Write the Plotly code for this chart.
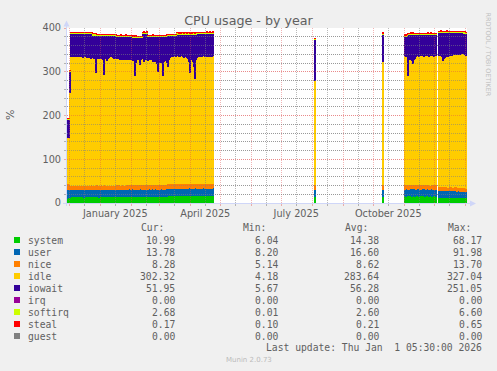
import pandas as pd
import plotly.graph_objects as go

# ---------------- data (daily averages) ----------------
SEG_STARTS = ["2024-11-28", "2025-08-03", "2025-10-10", "2025-11-01", "2025-12-05"]
SEG_LENGTHS = [147, 1, 1, 32, 28]

SYSTEM = [
    10.2, 10.5, 10.8, 12.0, 13.1, 12.8, 13.4, 12.9, 13.6, 12.7,
    13.2, 13.8, 12.6, 13.0, 13.5, 12.9, 13.3, 12.4, 13.1, 13.7,
    12.8, 13.2, 13.9, 12.7, 13.4, 13.0, 12.6, 13.5, 13.1, 12.9,
    13.8, 13.3, 12.5, 13.0, 13.6, 12.8, 13.2, 13.9, 13.1, 12.7,
    13.4, 13.0, 13.7, 12.9, 13.3, 12.6, 13.5, 13.1, 12.8, 13.6,
    13.2, 12.9, 13.4, 13.8, 12.7, 13.1, 13.5, 13.0, 12.6, 13.3,
    13.9, 13.2, 12.8, 13.5, 13.1, 13.7, 12.9, 13.4, 14.2, 13.6,
    13.0, 13.5, 13.8, 14.1, 13.2, 13.7, 13.3, 12.9, 13.6, 14.0,
    13.4, 13.1, 13.8, 13.5, 14.2, 13.3, 13.9, 14.4, 13.6, 13.2,
    13.8, 14.5, 13.7, 14.1, 13.4, 13.9, 14.6, 14.0, 13.5, 14.3,
    14.8, 15.1, 15.4, 15.0, 15.6, 15.2, 15.9, 15.5, 16.1, 15.7,
    16.0, 15.6, 16.3, 15.8, 16.2, 15.7, 16.4, 16.0, 15.5, 16.1,
    16.5, 15.9, 16.3, 16.8, 16.1, 15.7, 16.4, 16.9, 16.2, 16.6,
    16.0, 16.4, 16.8, 16.3, 16.7, 16.1, 16.5, 16.9, 16.4, 16.8,
    16.2, 16.6, 17.0, 16.5, 16.9, 16.3, 16.7,
    14.2,
    14.5,
    15.2, 14.6, 15.8, 14.9, 15.4, 16.1, 15.0, 14.7, 15.6, 15.3,
    14.8, 15.5, 16.0, 15.1, 14.6, 15.7, 15.2, 14.9, 15.8, 15.4,
    14.7, 15.3, 16.2, 15.0, 14.5, 15.6, 15.1, 14.8, 15.5, 15.9,
    15.2, 14.6,
    11.8, 12.3, 11.5, 12.0, 11.6, 12.4, 11.9, 11.3, 12.1, 11.7,
    12.2, 11.4, 11.9, 12.5, 11.6, 11.8, 12.2, 11.5, 11.9, 11.3,
    11.7, 12.0, 11.4, 11.8, 11.2, 11.6, 11.3, 10.99,
]

USER = [
    19.8, 19.5, 19.4, 18.0, 16.5, 17.2, 16.1, 17.0, 16.4, 17.1,
    16.9, 16.0, 17.3, 17.2, 16.4, 17.1, 16.2, 17.4, 16.9, 16.1,
    17.1, 17.2, 15.9, 17.3, 16.5, 16.4, 17.5, 16.5, 17.2, 16.9,
    16.4, 16.3, 17.2, 17.3, 16.5, 16.9, 17.0, 16.1, 16.4, 17.3,
    16.5, 17.4, 16.1, 17.0, 16.8, 16.8, 16.4, 17.2, 16.8, 16.6,
    16.8, 16.6, 16.9, 16.1, 17.4, 16.6, 16.6, 17.3, 17.1, 16.7,
    17.3, 17.4, 18.1, 17.8, 17.4, 17.3, 18.2, 17.2, 16.2, 17.6,
    17.8, 17.6, 16.8, 16.9, 18.1, 17.0, 17.6, 17.5, 17.6, 16.8,
    17.7, 17.4, 17.2, 17.9, 16.5, 17.6, 17.3, 16.2, 17.4, 18.1,
    16.9, 16.6, 17.1, 16.3, 17.8, 17.0, 16.0, 17.1, 17.3, 16.7,
    18.4, 17.6, 18.0, 17.9, 17.5, 17.4, 17.4, 17.5, 17.4, 17.1,
    17.1, 17.1, 17.1, 17.2, 17.0, 16.9, 16.9, 16.9, 17.6, 16.7,
    16.9, 17.1, 16.9, 16.7, 16.8, 17.4, 17.6, 15.9, 17.0, 16.8,
    17.0, 16.9, 16.3, 16.4, 16.7, 16.8, 16.7, 16.6, 16.6, 16.5,
    16.9, 16.2, 16.4, 16.5, 16.3, 16.4, 16.6,
    16.1,
    15.8,
    15.6, 16.3, 15.1, 15.9, 15.4, 14.8, 16.0, 16.2, 15.3, 15.7,
    16.1, 15.2, 14.9, 15.8, 16.4, 15.0, 15.6, 16.0, 15.1, 15.5,
    16.2, 15.4, 14.7, 15.9, 16.3, 15.2, 15.8, 16.1, 15.3, 14.9,
    15.7, 16.2,
    14.8, 14.2, 15.1, 14.5, 14.9, 14.0, 14.6, 15.2, 14.3, 14.7,
    14.1, 15.0, 14.4, 13.9, 14.8, 14.5, 14.2, 14.9, 14.3, 15.0,
    14.6, 14.2, 14.8, 14.4, 14.9, 14.3, 14.6, 13.78,
]

NICE = [
    14.0, 14.1, 13.8, 12.0, 10.2, 9.8, 10.5, 9.9, 10.3, 10.1,
    9.7, 10.4, 10.0, 9.6, 10.2, 9.9, 10.6, 10.1, 9.8, 10.3,
    10.0, 9.5, 10.4, 9.9, 10.2, 10.7, 9.8, 10.1, 9.6, 10.3,
    9.9, 10.5, 10.2, 9.7, 10.0, 10.4, 9.8, 10.1, 10.6, 9.9,
    10.2, 9.6, 10.3, 10.0, 9.8, 10.5, 10.1, 9.7, 10.4, 9.9,
    10.1, 10.6, 9.8, 10.2, 9.9, 10.4, 10.0, 9.6, 10.3, 10.1,
    9.8, 10.4, 10.1, 9.7, 10.5, 10.0, 9.9, 10.3, 10.6, 9.8,
    10.2, 9.9, 10.4, 10.0, 9.7, 10.3, 10.1, 10.6, 9.8, 10.2,
    9.9, 10.5, 10.0, 9.6, 10.3, 10.1, 9.8, 10.4, 10.0, 9.7,
    10.3, 9.9, 10.2, 10.6, 9.8, 10.1, 10.4, 9.9, 10.2, 10.0,
    9.8, 10.3, 9.6, 10.1, 9.9, 10.4, 9.7, 10.0, 9.5, 10.2,
    9.9, 10.3, 9.6, 10.0, 9.8, 10.4, 9.7, 10.1, 9.9, 10.2,
    9.6, 10.0, 9.8, 9.5, 10.1, 9.9, 9.7, 10.2, 9.8, 9.6,
    10.0, 9.7, 9.9, 10.3, 9.6, 10.1, 9.8, 9.5, 10.0, 9.7,
    9.9, 10.2, 9.6, 10.0, 9.8, 10.3, 9.7,
    10.6,
    9.9,
    9.6, 9.3, 9.9, 9.4, 9.8, 9.2, 9.7, 9.5, 9.9, 9.3,
    9.6, 9.8, 9.2, 9.7, 9.4, 9.9, 9.5, 9.3, 9.8, 9.6,
    9.4, 9.7, 9.3, 9.8, 9.5, 9.2, 9.9, 9.6, 9.4, 9.7,
    9.5, 9.3,
    9.6, 9.2, 9.8, 9.4, 9.7, 9.1, 9.5, 9.3, 9.8, 9.0,
    9.4, 9.7, 9.2, 9.5, 8.9, 9.6, 9.3, 9.1, 9.4, 8.8,
    9.2, 8.9, 9.3, 8.7, 9.0, 8.6, 8.9, 8.28,
]

IDLE = [
    104, 106, 105, 210, 294, 295, 293, 296, 294, 293,
    295, 294, 296, 293, 295, 294, 292, 294, 293, 295,
    292, 294, 291, 293, 290, 292, 291, 289, 290, 258,
    288, 290, 289, 291, 288, 290, 287, 252, 289, 290,
    284, 289, 291, 293, 294, 293, 292, 290, 291, 289,
    290, 288, 289, 287, 288, 286, 288, 287, 289, 286,
    287, 288, 286, 287, 285, 286, 284, 283, 249, 280,
    286, 287, 285, 274, 286, 288, 290, 281, 285, 287,
    286, 284, 287, 285, 288, 286, 282, 285, 281, 284,
    276, 258, 283, 280, 285, 278, 250, 282, 286, 284,
    278, 268, 285, 289, 291, 292, 290, 293, 292, 291,
    293, 292, 290, 291, 293, 292, 290, 289, 291, 290,
    288, 286, 280, 254, 284, 287, 279, 268, 241, 283,
    289, 290, 291, 292, 290, 291, 293, 292, 291, 290,
    292, 291, 293, 290, 292, 291, 293,
    237,
    283,
    295, 294, 296, 249, 288, 287, 289, 284, 278, 287,
    288, 294, 295, 296, 294, 295, 297, 296, 295, 294,
    296, 295, 297, 296, 294, 295, 296, 297, 295, 294,
    296, 295,
    300, 301, 299, 298, 288, 294, 296, 298, 299, 298,
    300, 301, 302, 301, 303, 302, 304, 303, 302, 304,
    305, 304, 306, 305, 307, 306, 304, 302.32,
]

IOWAIT = [
    42, 40, 41, 48, 53, 52, 54, 51, 53, 54,
    52, 53, 51, 54, 52, 53, 55, 53, 54, 52,
    55, 53, 56, 54, 57, 55, 53, 55, 54, 86,
    55, 53, 54, 52, 55, 53, 56, 91, 54, 53,
    58, 53, 51, 49, 48, 49, 50, 52, 51, 53,
    51, 53, 52, 54, 53, 55, 53, 54, 52, 55,
    53, 52, 54, 53, 55, 54, 54, 55, 89, 58,
    51, 50, 52, 63, 51, 49, 57, 66, 62, 60,
    61, 56, 53, 55, 52, 54, 58, 55, 59, 56,
    63, 81, 56, 59, 54, 61, 89, 57, 53, 55,
    62, 72, 55, 51, 49, 48, 50, 47, 48, 49,
    50, 51, 53, 52, 50, 51, 53, 54, 52, 53,
    55, 57, 63, 89, 59, 56, 64, 75, 102, 60,
    55, 54, 53, 52, 54, 53, 51, 52, 53, 54,
    53, 54, 52, 55, 53, 54, 52,
    96,
    63,
    46, 47, 45, 96, 57, 58, 56, 61, 67, 58,
    57, 51, 50, 49, 51, 50, 48, 49, 50, 51,
    49, 50, 48, 49, 51, 50, 49, 48, 50, 51,
    49, 50,
    54, 53, 55, 56, 66, 60, 58, 56, 55, 56,
    54, 53, 52, 53, 51, 52, 50, 51, 52, 50,
    49, 50, 48, 49, 47, 48, 50, 51.95,
]

SOFTIRQ = [
    2.0, 2.1, 2.2, 2.4, 2.6, 2.5, 2.7, 2.4, 2.6, 2.8,
    2.5, 2.7, 2.4, 2.6, 2.9, 2.5, 2.6, 2.8, 2.4, 2.7,
    2.6, 2.5, 2.8, 2.4, 2.7, 2.6, 2.5, 2.9, 2.6, 2.4,
    2.7, 2.5, 2.6, 2.8, 2.4, 2.7, 2.5, 2.6, 2.9, 2.5,
    2.6, 2.8, 2.5, 2.7, 2.4, 2.6, 2.8, 2.5, 2.7, 2.6,
    2.4, 2.7, 2.5, 2.6, 2.8, 2.5, 2.7, 2.4, 2.6, 2.9,
    2.5, 2.6, 2.8, 2.4, 2.7, 2.5, 2.6, 2.9, 2.5, 2.7,
    2.6, 2.4, 2.7, 2.5, 2.8, 2.6, 2.5, 2.7, 2.4, 2.6,
    2.8, 2.5, 2.6, 2.7, 2.4, 2.6, 2.9, 2.5, 2.7, 2.6,
    2.5, 2.7, 2.4, 2.6, 2.8, 2.5, 2.6, 2.7, 2.4, 2.6,
    2.7, 2.5, 2.8, 2.6, 2.4, 2.7, 2.5, 2.6, 2.9, 2.5,
    2.6, 2.8, 2.5, 2.7, 2.4, 2.6, 2.8, 2.5, 2.7, 2.6,
    2.5, 2.7, 2.6, 2.4, 2.8, 2.5, 2.7, 2.6, 2.4, 2.7,
    2.6, 2.5, 2.8, 2.6, 2.4, 2.7, 2.5, 2.6, 2.8, 2.5,
    2.7, 2.6, 2.4, 2.8, 2.5, 2.6, 2.7,
    2.2,
    2.3,
    2.5, 2.7, 2.6, 2.8, 2.5, 2.6, 2.7, 2.4, 2.6, 2.8,
    2.5, 2.7, 2.6, 2.4, 2.8, 2.6, 2.5, 2.7, 2.6, 2.5,
    2.7, 2.6, 2.4, 2.8, 2.6, 2.5, 2.7, 2.6, 2.8, 2.5,
    2.6, 2.7,
    2.7, 2.9, 2.6, 2.8, 2.5, 2.7, 2.9, 2.6, 2.8, 2.7,
    2.6, 2.8, 2.9, 2.7, 2.5, 2.8, 2.6, 2.9, 2.7, 2.6,
    2.8, 2.7, 2.9, 2.6, 2.8, 2.7, 2.5, 2.68,
]

STEAL = [
    0.30, 0.28, 0.26, 0.23, 0.21, 0.20, 0.22, 0.19, 0.21, 0.23,
    0.20, 0.22, 0.19, 0.21, 0.24, 0.20, 0.22, 0.18, 0.21, 0.23,
    0.21, 0.19, 0.22, 0.20, 0.23, 0.21, 0.18, 0.22, 0.20, 0.24,
    0.22, 0.20, 0.19, 0.23, 0.21, 0.20, 0.22, 0.25, 0.19, 0.21,
    0.20, 0.23, 0.21, 0.19, 0.22, 0.20, 0.24, 0.21, 0.19, 0.22,
    0.21, 0.19, 0.22, 0.20, 0.23, 0.21, 0.18, 0.22, 0.20, 0.21,
    0.23, 0.20, 0.19, 0.22, 0.21, 0.24, 0.20, 0.22, 0.26, 0.21,
    0.19, 0.22, 0.20, 0.23, 0.21, 0.19, 0.22, 0.24, 0.20, 0.21,
    0.22, 0.20, 0.19, 0.23, 0.21, 0.20, 0.22, 0.21, 0.24, 0.20,
    0.21, 0.25, 0.20, 0.22, 0.19, 0.21, 0.27, 0.20, 0.22, 0.21,
    0.20, 0.23, 0.21, 0.19, 0.22, 0.20, 0.21, 0.23, 0.19, 0.22,
    0.20, 0.21, 0.23, 0.19, 0.22, 0.20, 0.21, 0.18, 0.22, 0.20,
    0.21, 0.19, 0.22, 0.25, 0.20, 0.21, 0.23, 0.24, 0.28, 0.20,
    0.22, 0.19, 0.21, 0.20, 0.23, 0.21, 0.19, 0.22, 0.20, 0.21,
    0.19, 0.22, 0.20, 0.21, 0.23, 0.20, 0.21,
    0.20,
    0.20,
    0.19, 0.21, 0.18, 0.22, 0.20, 0.19, 0.21, 0.18, 0.20, 0.22,
    0.19, 0.17, 0.20, 0.18, 0.21, 0.19, 0.17, 0.20, 0.18, 0.19,
    0.21, 0.18, 0.19, 0.17, 0.20, 0.18, 0.19, 0.17, 0.18, 0.20,
    0.18, 0.19,
    0.18, 0.16, 0.19, 0.17, 0.18, 0.20, 0.17, 0.16, 0.18, 0.19,
    0.17, 0.18, 0.16, 0.19, 0.17, 0.18, 0.16, 0.17, 0.19, 0.18,
    0.16, 0.17, 0.18, 0.16, 0.17, 0.18, 0.16, 0.17,
]

# legend table
LEGEND_NAMES = ["system", "user", "nice", "idle", "iowait", "irq", "softirq", "steal", "guest"]
LEGEND_COLORS = ["#00CC00", "#0066B3", "#FF8000", "#FFCC00", "#330099",
                 "#990099", "#CCFF00", "#FF0000", "#808080"]
CUR = ["10.99", "13.78", "8.28", "302.32", "51.95", "0.00", "2.68", "0.17", "0.00"]
MIN = ["6.04", "8.20", "5.14", "4.18", "5.67", "0.00", "0.01", "0.10", "0.00"]
AVG = ["14.38", "16.60", "8.62", "283.64", "56.28", "0.00", "2.60", "0.21", "0.00"]
MAX = ["68.17", "91.98", "13.70", "327.04", "251.05", "0.00", "6.60", "0.65", "0.00"]

# axis labels
TICK_LABEL_DATES = ["2025-01-16", "2025-04-16", "2025-07-16", "2025-10-16"]
TICK_LABELS = ["January 2025", "April 2025", "July 2025", "October 2025"]

X_START = "2024-11-28 18:00"
X_END = "2026-01-02 18:00"

# ---------------- build ----------------
DATES = []
for s, n in zip(SEG_STARTS, SEG_LENGTHS):
    DATES.extend(pd.date_range(s, periods=n, freq="D") + pd.Timedelta(hours=12))
DATES = [d.strftime("%Y-%m-%d %H:%M") for d in DATES]
N = len(DATES)
for nm, arr in [("SYSTEM", SYSTEM), ("USER", USER), ("NICE", NICE), ("IDLE", IDLE),
                ("IOWAIT", IOWAIT), ("SOFTIRQ", SOFTIRQ), ("STEAL", STEAL)]:
    assert len(arr) == N, (nm, len(arr), N)

W, H = 497, 371
L, R, T, B = 67, 30, 28, 168
PW, PH = W - L - R, H - T - B


def px(x):
    return (x - L) / PW


def py(y):
    return (T + PH - y) / PH


FONT = "DejaVu Sans"
MONO = "DejaVu Sans Mono"
TXT = "#606060"
GRID_MINOR = "rgba(128,128,128,0.55)"
GRID_MAJOR = "rgba(222,79,79,0.42)"
AXIS_COL = "#CFD6F8"

fig = go.Figure()
series = [("system", SYSTEM, "#00CC00"), ("user", USER, "#0066B3"), ("nice", NICE, "#FF8000"),
          ("idle", IDLE, "#FFCC00"), ("iowait", IOWAIT, "#330099"),
          ("softirq", SOFTIRQ, "#CCFF00"), ("steal", STEAL, "#FF0000")]
for name, vals, col in series:
    fig.add_trace(go.Bar(x=DATES, y=vals, name=name, width=86400000,
                         marker=dict(color=col, opacity=0.999, line=dict(width=0)),
                         xaxis="x", yaxis="y", showlegend=False, hoverinfo="skip"))
fig.add_trace(go.Scatter(x=[X_START], y=[0], xaxis="x2", yaxis="y2", mode="markers",
                         marker=dict(opacity=0), showlegend=False, hoverinfo="skip"))

month_starts = list(pd.date_range("2024-12-01", "2026-01-01", freq="MS"))
mid_months = [d + pd.Timedelta(days=15) for d in month_starts[:-1]]
mid_str = [d.strftime("%Y-%m-%d") for d in mid_months]
lab_map = dict(zip(TICK_LABEL_DATES, TICK_LABELS))
mid_text = [lab_map.get(s, "") for s in mid_str]

tickfont = dict(family=FONT, size=9.72, color=TXT)
ygrid = dict(range=[0, 400], tickmode="linear", tick0=0, dtick=100,
             showgrid=True, gridcolor=GRID_MAJOR, griddash="1px,1px", gridwidth=1,
             minor=dict(dtick=20, tick0=0, showgrid=True,
                        gridcolor=GRID_MINOR, griddash="1px,1px", gridwidth=1),
             showline=False, zeroline=False)
fig.update_layout(
    width=W, height=H, autosize=False,
    margin=dict(l=L, r=R, t=T, b=B, pad=0, autoexpand=False),
    paper_bgcolor="#F0F0F0", plot_bgcolor="rgba(0,0,0,0)",
    barmode="stack", bargap=0, bargroupgap=0,
    title=dict(text="CPU usage - by year", x=0.5, xref="container", xanchor="center",
               y=1 - 20.5 / H, yref="container", yanchor="middle",
               font=dict(family=FONT, size=12.7, color=TXT)),
    xaxis=dict(type="date", range=[X_START, X_END], domain=[0, 1], anchor="y",
               showgrid=False, showticklabels=False, ticks="", showline=False, zeroline=False),
    yaxis=dict(domain=[0, 1], anchor="x", showticklabels=False, ticks="", **ygrid),
    xaxis2=dict(type="date", range=[X_START, X_END], domain=[0, 1], anchor="y2",
                tickmode="array", tickvals=mid_str, ticktext=mid_text,
                ticks="outside", ticklen=2, tickcolor=GRID_MINOR,
                showgrid=True, gridcolor=GRID_MINOR, griddash="1px,1px", gridwidth=1,
                minor=dict(tickmode="array", tickvals=[d.strftime("%Y-%m-%d") for d in month_starts],
                           showgrid=True, gridcolor=GRID_MAJOR, griddash="1px,1px", gridwidth=1,
                           ticks="outside", ticklen=2, tickcolor=GRID_MAJOR),
                tickfont=tickfont, showline=False, zeroline=False, ticklabelstandoff=-1),
    yaxis2=dict(domain=[0, 1], anchor="x2", ticks="outside", ticklen=2, tickcolor=GRID_MAJOR,
                tickfont=tickfont, ticklabelstandoff=1, **ygrid),
)
fig.update_layout(yaxis2_minor=dict(ticks="outside", ticklen=2, tickcolor=GRID_MINOR))

shapes = [
    dict(type="rect", xref="paper", yref="paper", x0=0, x1=1, y0=0, y1=1,
         fillcolor="#FFFFFF", line=dict(width=0), layer="below"),
    # axes with arrows
    dict(type="line", xref="paper", yref="paper", x0=px(66.5), x1=px(66.5), y0=py(206), y1=py(26),
         line=dict(color=AXIS_COL, width=1), layer="above"),
    dict(type="path", xref="paper", yref="paper",
         path=f"M {px(63.5)} {py(26.5)} L {px(69.5)} {py(26.5)} L {px(66.5)} {py(20.5)} Z",
         fillcolor=AXIS_COL, line=dict(width=0), layer="above"),
    dict(type="line", xref="paper", yref="paper", x0=px(63), x1=px(470), y0=py(203.5), y1=py(203.5),
         line=dict(color=AXIS_COL, width=1), layer="above"),
    dict(type="path", xref="paper", yref="paper",
         path=f"M {px(470)} {py(200.5)} L {px(470)} {py(206.5)} L {px(476)} {py(203.5)} Z",
         fillcolor=AXIS_COL, line=dict(width=0), layer="above"),
]

ann = []
ROW0 = 240
for i, (nm, col) in enumerate(zip(LEGEND_NAMES, LEGEND_COLORS)):
    cy = ROW0 + 12 * i
    shapes.append(dict(type="rect", xref="paper", yref="paper", x0=px(14), x1=px(20),
                       y0=py(cy + 3), y1=py(cy - 3), fillcolor=col, line=dict(width=0)))
    ann.append(dict(x=px(26.5), y=py(cy), text=nm, xanchor="left"))
    for xr, vals in ((175.7, CUR), (278.7, MIN), (380.3, AVG), (482.7, MAX)):
        ann.append(dict(x=px(xr), y=py(cy), text=vals[i], xanchor="right"))
for xl, t in ((140, "Cur:"), (242.3, "Min:"), (344.3, "Avg:"), (446.7, "Max:")):
    ann.append(dict(x=px(xl), y=py(227.5), text=t, xanchor="left"))
ann.append(dict(x=px(482.7), y=py(347.6), text="Last update: Thu Jan \u00a01 05:30:00 2026",
                xanchor="right"))
for a in ann:
    a.update(xref="paper", yref="paper", yanchor="middle", showarrow=False, borderpad=0,
             font=dict(family=MONO, size=9.7, color=TXT))
ann.append(dict(x=px(248.5), y=py(360.2), xref="paper", yref="paper", text="Munin 2.0.73",
                showarrow=False, xanchor="center", yanchor="middle", borderpad=0,
                font=dict(family=FONT, size=7, color="#BBBBBB")))
ann.append(dict(x=px(487.5), y=py(54), xref="paper", yref="paper", text="RRDTOOL / TOBI OETIKER",
                showarrow=False, xanchor="center", yanchor="middle", textangle=90, borderpad=0,
                font=dict(family=FONT, size=6.5, color="#C0C0C0")))
ann.append(dict(x=px(10), y=py(115), xref="paper", yref="paper", text="%",
                showarrow=False, xanchor="center", yanchor="middle", textangle=-90, borderpad=0,
                font=dict(family=FONT, size=11, color=TXT)))

fig.update_layout(shapes=shapes, annotations=ann)
fig.write_html("out.html", config={"displayModeBar": False},
               post_script="document.body.style.margin='0px';")
